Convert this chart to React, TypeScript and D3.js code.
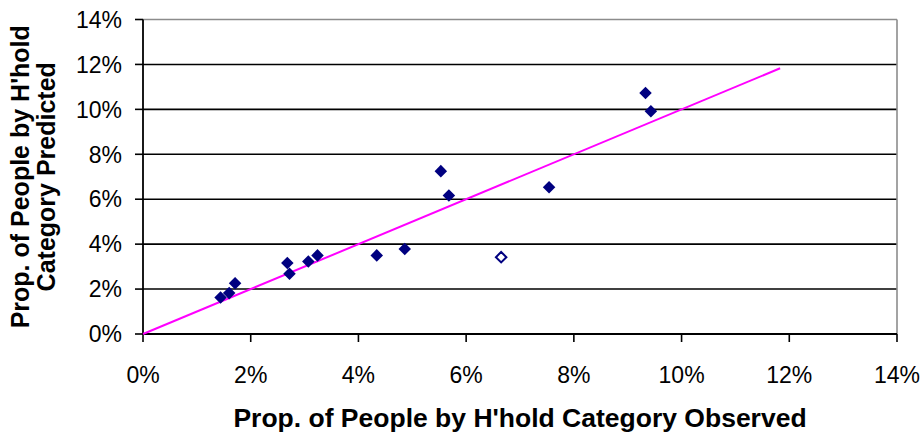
import React from 'react';
import * as d3 from 'd3';

// values, in percent
const observed = [1.44, 1.6, 1.71, 2.68, 2.72, 3.07, 3.24, 4.34, 4.86, 5.53, 5.68, 7.54, 9.33, 9.43];
const predicted = [1.62, 1.82, 2.26, 3.16, 2.68, 3.23, 3.5, 3.5, 3.78, 7.25, 6.17, 6.53, 10.73, 9.92];
const outlierObserved = [6.65];
const outlierPredicted = [3.42];
const fitLine = [0, 11.83]; // y = x
const tickValues = [0, 2, 4, 6, 8, 10, 12, 14];

const xTitle = "Prop. of People by H'hold Category Observed";
const yTitle = ["Prop. of People by H'hold", 'Category Predicted'];

const W = 924;
const H = 437;
const margin = { left: 143, right: 27, top: 19.5, bottom: 103 };

const App = () => {
  const x = d3.scaleLinear().domain([0, 14]).range([margin.left, W - margin.right]);
  const y = d3.scaleLinear().domain([0, 14]).range([H - margin.bottom, margin.top]);

  const diamond = d3.symbol().type(d3.symbolDiamond2).size(100);
  const line = d3.line<number>().x(d => x(d)).y(d => y(d));
  const font = "'Liberation Sans', Arial, sans-serif";

  const points = observed.map((o, i) => ({ o, p: predicted[i] }));
  const hollow = outlierObserved.map((o, i) => ({ o, p: outlierPredicted[i] }));

  return (
    <div style={{ position: 'absolute', left: 0, top: 0 }}>
      <svg width={W} height={H} style={{ display: 'block', background: '#fff' }} fontFamily={font}>
        {/* gridlines */}
        {tickValues.slice(1, -1).map(t => (
          <line key={'g' + t} x1={x(0)} x2={x(14)} y1={y(t)} y2={y(t)} stroke="#000" strokeWidth={1.6} />
        ))}
        {/* plot border top/right */}
        <line x1={x(0)} x2={x(14)} y1={y(14)} y2={y(14)} stroke="#8c8c8c" strokeWidth={1.6} />
        <line x1={x(14)} x2={x(14)} y1={y(14)} y2={y(0)} stroke="#8c8c8c" strokeWidth={1.6} />

        {/* axes */}
        <line x1={x(0)} x2={x(14)} y1={y(0)} y2={y(0)} stroke="#000" strokeWidth={1.8} />
        <line x1={x(0)} x2={x(0)} y1={y(0)} y2={y(14)} stroke="#000" strokeWidth={1.8} />
        {tickValues.map(t => (
          <g key={'y' + t}>
            <line x1={x(0) - 8} x2={x(0)} y1={y(t)} y2={y(t)} stroke="#000" strokeWidth={1.6} />
            <text x={x(0) - 21} y={y(t)} dy="0.36em" textAnchor="end" fontSize={23}>
              {t}%
            </text>
          </g>
        ))}
        {tickValues.map(t => (
          <g key={'x' + t}>
            <line x1={x(t)} x2={x(t)} y1={y(0)} y2={y(0) + 8} stroke="#000" strokeWidth={1.6} />
            <text x={x(t)} y={383} textAnchor="middle" fontSize={23}>
              {t}%
            </text>
          </g>
        ))}

        {/* y = x line */}
        <path d={line(fitLine) || ''} fill="none" stroke="#ff00ff" strokeWidth={2} />

        {/* markers */}
        {points.map((d, i) => (
          <path key={'p' + i} d={diamond() || ''} transform={`translate(${x(d.o)},${y(d.p)})`} fill="#000080" />
        ))}
        {hollow.map((d, i) => (
          <path
            key={'h' + i}
            d={d3.symbol().type(d3.symbolDiamond2).size(70)() || ''}
            transform={`translate(${x(d.o)},${y(d.p)})`}
            fill="#fff"
            stroke="#000080"
            strokeWidth={2}
          />
        ))}

        {/* titles */}
        <text x={520} y={427} textAnchor="middle" fontSize={26.5} fontWeight="bold">
          {xTitle}
        </text>
        <g transform={`translate(0,${(y(0) + y(14)) / 2}) rotate(-90)`}>
          <text x={0} y={29} textAnchor="middle" fontSize={25} fontWeight="bold">
            {yTitle[0]}
          </text>
          <text x={0} y={55} textAnchor="middle" fontSize={25} fontWeight="bold">
            {yTitle[1]}
          </text>
        </g>
      </svg>
    </div>
  );
};

export default App;
